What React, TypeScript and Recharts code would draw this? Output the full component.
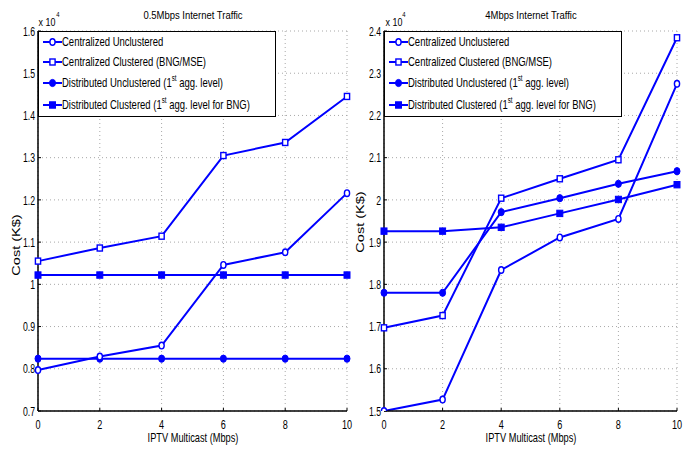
import React from 'react';
import { LineChart, Line, XAxis, YAxis, CartesianGrid, Legend } from 'recharts';

// ---------- data (cost in units of x10^4 K$) ----------
const iptvMulticast = [0, 2, 4, 6, 8, 10];
const xTicks = [0, 2, 4, 6, 8, 10];

const seriesNames = [
  'Centralized Unclustered',
  'Centralized Clustered (BNG/MSE)',
  'Distributed Unclustered (1',
  'Distributed Clustered (1',
];

// 0.5 Mbps Internet Traffic
const lowCentralizedUnclustered = [0.797, 0.829, 0.855, 1.046, 1.076, 1.216];
const lowCentralizedClustered = [1.055, 1.086, 1.114, 1.305, 1.336, 1.445];
const lowDistributedUnclustered = [0.824, 0.824, 0.824, 0.824, 0.824, 0.824];
const lowDistributedClustered = [1.022, 1.022, 1.022, 1.022, 1.022, 1.022];
const lowYTicks = [0.7, 0.8, 0.9, 1.0, 1.1, 1.2, 1.3, 1.4, 1.5, 1.6];

// 4 Mbps Internet Traffic
const highCentralizedUnclustered = [1.5, 1.527, 1.834, 1.911, 1.955, 2.275];
const highCentralizedClustered = [1.697, 1.726, 2.004, 2.05, 2.095, 2.384];
const highDistributedUnclustered = [1.78, 1.78, 1.971, 2.004, 2.038, 2.068];
const highDistributedClustered = [1.926, 1.926, 1.935, 1.968, 2.001, 2.036];
const highYTicks = [1.5, 1.6, 1.7, 1.8, 1.9, 2.0, 2.1, 2.2, 2.3, 2.4];

const buildRows = (cu: number[], cc: number[], du: number[], dc: number[]) =>
  iptvMulticast.map((x, i) => ({ x, cu: cu[i], cc: cc[i], du: du[i], dc: dc[i] }));

const lowRows = buildRows(lowCentralizedUnclustered, lowCentralizedClustered, lowDistributedUnclustered, lowDistributedClustered);
const highRows = buildRows(highCentralizedUnclustered, highCentralizedClustered, highDistributedUnclustered, highDistributedClustered);

// ---------- styles ----------
const FONT = "'Liberation Sans', Arial, Helvetica, sans-serif";
const BLUE = '#0000ff';
const fmt = (v: number) => String(Number(v.toFixed(1)));

type Kind = 'circle' | 'square' | 'fcircle' | 'fsquare';

const Marker = ({ kind, cx, cy }: { kind: Kind; cx: number; cy: number }) => {
  if (kind === 'circle')
    return <ellipse cx={cx} cy={cy} rx={2.6} ry={3.3} fill="#fff" stroke={BLUE} strokeWidth={1.4} />;
  if (kind === 'square')
    return <rect x={cx - 2.6} y={cy - 3} width={5.2} height={6} fill="#fff" stroke={BLUE} strokeWidth={1.4} />;
  if (kind === 'fcircle')
    return <ellipse cx={cx} cy={cy} rx={3} ry={3.6} fill={BLUE} stroke={BLUE} strokeWidth={1} />;
  return <rect x={cx - 3} y={cy - 3.2} width={6} height={6.4} fill={BLUE} stroke={BLUE} strokeWidth={1} />;
};

const mkDot = (kind: Kind) => (p: any) => {
  if (p.cx == null || p.cy == null) return <g key={`d-${kind}-${p.index}`} />;
  return (
    <g key={`d-${kind}-${p.index}`}>
      <Marker kind={kind} cx={p.cx} cy={p.cy} />
    </g>
  );
};

const YTick = (p: any) => (
  <text
    transform={`translate(${p.x} ${p.y}) scale(0.67 1)`}
    x={0}
    y={0}
    dy="0.355em"
    textAnchor="end"
    fontSize={13}
    fontFamily={FONT}
    fill="#000"
  >
    {fmt(p.payload.value)}
  </text>
);

const XTick = (p: any) => (
  <text
    transform={`translate(${p.x} ${p.y}) scale(0.7 1)`}
    x={0}
    y={0}
    dy="0.71em"
    textAnchor="middle"
    fontSize={13}
    fontFamily={FONT}
    fill="#000"
  >
    {fmt(p.payload.value)}
  </text>
);

const legendKinds: Kind[] = ['circle', 'square', 'fcircle', 'fsquare'];
const legendRowY = [11, 31, 52, 74];

const LegendBox = () => (
  <div
    style={{
      position: 'relative',
      width: 238,
      height: 86,
      boxSizing: 'border-box',
      border: '1.5px solid #000',
      background: '#fff',
      fontFamily: FONT,
    }}
  >
    {legendKinds.map((k, i) => (
      <div key={k} style={{ position: 'absolute', left: 0, top: legendRowY[i] - 1.5 - 8, height: 16, width: 236 }}>
        <svg width={24} height={16} style={{ position: 'absolute', left: 3, top: 0 }}>
          <line x1={1} y1={8} x2={20} y2={8} stroke={BLUE} strokeWidth={2} />
          <Marker kind={k} cx={10.5} cy={8} />
        </svg>
        <span
          style={{
            position: 'absolute',
            left: 22.5,
            top: 0,
            lineHeight: '16px',
            fontSize: 13,
            whiteSpace: 'nowrap',
            display: 'inline-block',
            transform: 'scaleX(0.73)',
            transformOrigin: 'left center',
            color: '#000',
          }}
        >
          {seriesNames[i]}
          {i >= 2 && (
            <>
              <sup style={{ fontSize: 8.5, verticalAlign: 'baseline', position: 'relative', top: -6 }}>st</sup>
              {i === 2 ? ' agg. level)' : ' agg. level for BNG)'}
            </>
          )}
        </span>
      </div>
    ))}
  </div>
);

const Txt = ({
  x,
  y,
  size,
  scale,
  rotate,
  children,
}: {
  x: number;
  y: number;
  size: number;
  scale: number;
  rotate?: boolean;
  children: React.ReactNode;
}) => (
  <div
    style={{
      position: 'absolute',
      left: x,
      top: y,
      width: 0,
      height: 0,
    }}
  >
    <div
      style={{
        position: 'absolute',
        left: 0,
        top: 0,
        transform: `translate(-50%, -50%) scale(${scale}, 1)${rotate ? ' rotate(-90deg)' : ''}`,
        fontSize: size,
        lineHeight: 1,
        fontFamily: FONT,
        whiteSpace: 'nowrap',
        color: '#000',
      }}
    >
      {children}
    </div>
  </div>
);

type PanelProps = {
  left: number;
  width: number;
  yAxisWidth: number;
  rightMargin: number;
  rows: any[];
  yTicks: number[];
};

const axisLineStyle = { stroke: '#000', strokeWidth: 1.5 };

const Panel = ({ left, width, yAxisWidth, rightMargin, rows, yTicks }: PanelProps) => (
  <div style={{ position: 'absolute', left, top: 0 }}>
    <LineChart width={width} height={449} data={rows} margin={{ top: 31, right: rightMargin, bottom: 0, left: 0 }}>
      <CartesianGrid stroke="#a8a8a8" strokeDasharray="1 3" strokeWidth={1} />
      <XAxis
        dataKey="x"
        type="number"
        domain={[0, 10]}
        ticks={xTicks}
        height={38}
        tickSize={-3}
        tickMargin={11.5}
        tickLine={{ stroke: '#000' }}
        axisLine={axisLineStyle}
        tick={XTick}
        interval={0}
      />
      <YAxis
        type="number"
        domain={[yTicks[0], yTicks[yTicks.length - 1]]}
        ticks={yTicks}
        width={yAxisWidth}
        tickSize={-3}
        tickMargin={6}
        tickLine={{ stroke: '#000' }}
        axisLine={axisLineStyle}
        tick={YTick}
        interval={0}
        allowDataOverflow
      />
      <XAxis xAxisId="top" orientation="top" height={0} tick={false} tickLine={false} axisLine={axisLineStyle} />
      <YAxis yAxisId="right" orientation="right" width={0} tick={false} tickLine={false} axisLine={axisLineStyle} />
      <Line dataKey="dc" stroke={BLUE} strokeWidth={2} dot={mkDot('fsquare')} isAnimationActive={false} />
      <Line dataKey="du" stroke={BLUE} strokeWidth={2} dot={mkDot('fcircle')} isAnimationActive={false} />
      <Line dataKey="cc" stroke={BLUE} strokeWidth={2} dot={mkDot('square')} isAnimationActive={false} />
      <Line dataKey="cu" stroke={BLUE} strokeWidth={2} dot={mkDot('circle')} isAnimationActive={false} />
      <Legend
        layout="vertical"
        align="center"
        verticalAlign="middle"
        content={() => <LegendBox />}
        wrapperStyle={{ left: yAxisWidth, top: 31, width: 238, height: 86 }}
      />
    </LineChart>
  </div>
);

export default function App() {
  return (
    <div
      style={{
        position: 'absolute',
        left: 0,
        top: 0,
        width: 696,
        height: 449,
        background: '#fff',
        overflow: 'hidden',
      }}
    >
      <Panel left={0} width={362} yAxisWidth={38} rightMargin={15} rows={lowRows} yTicks={lowYTicks} />
      <Panel left={350} width={346} yAxisWidth={34} rightMargin={19} rows={highRows} yTicks={highYTicks} />

      <Txt x={193} y={15} size={11} scale={0.86}>0.5Mbps Internet Traffic</Txt>
      <Txt x={531} y={15} size={11} scale={0.86}>4Mbps Internet Traffic</Txt>

      <Txt x={192.5} y={437} size={13} scale={0.71}>IPTV Multicast (Mbps)</Txt>
      <Txt x={530.5} y={437} size={13} scale={0.71}>IPTV Multicast (Mbps)</Txt>

      <Txt x={17} y={245} size={14.5} scale={0.7} rotate>Cost (K$)</Txt>
      <Txt x={361} y={222} size={14.5} scale={0.7} rotate>Cost (K$)</Txt>

      <Txt x={47} y={22} size={10.5} scale={0.85}>x 10</Txt>
      <Txt x={57.5} y={14} size={7} scale={0.85}>4</Txt>
      <Txt x={393.5} y={22} size={10.5} scale={0.85}>x 10</Txt>
      <Txt x={404} y={14} size={7} scale={0.85}>4</Txt>
    </div>
  );
}
